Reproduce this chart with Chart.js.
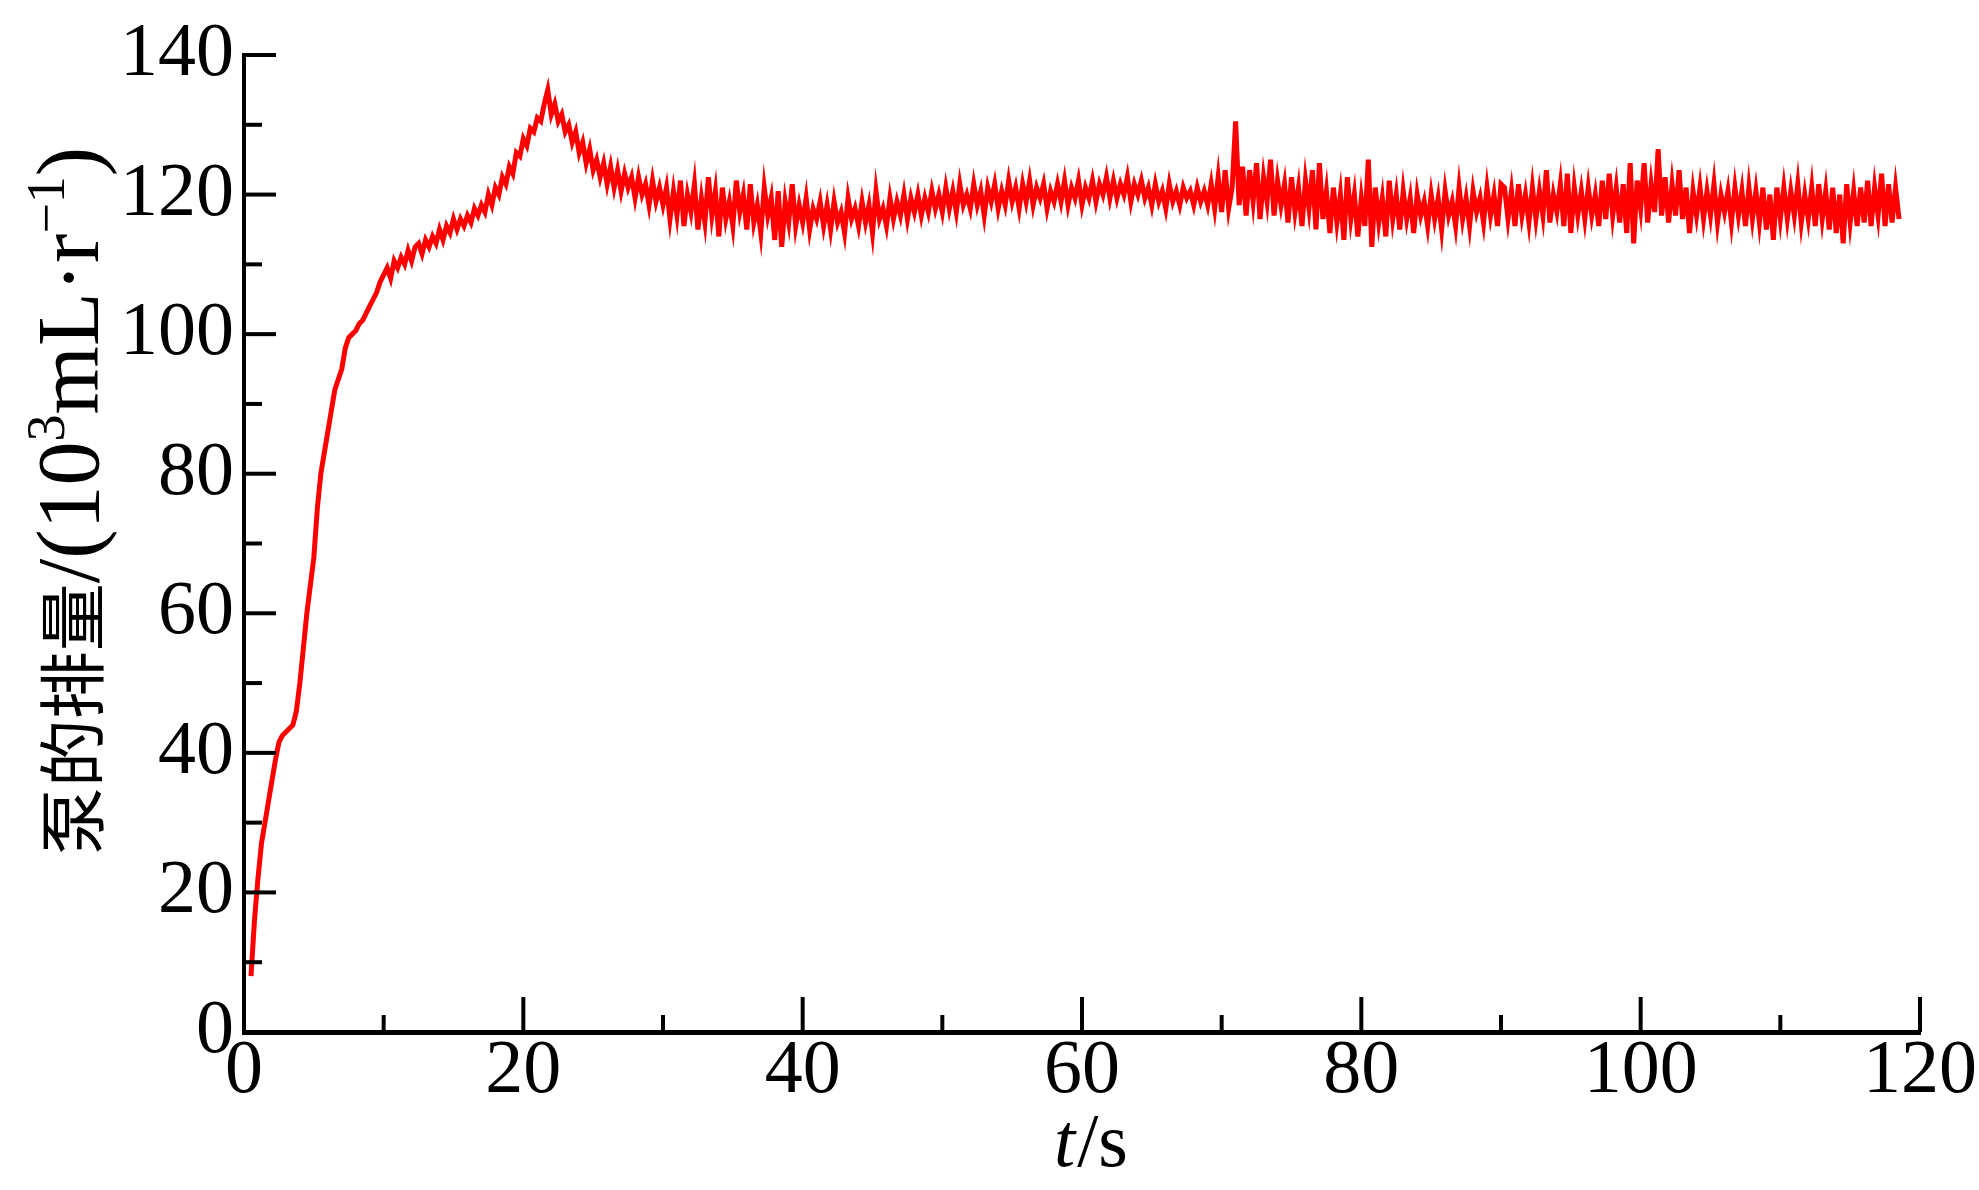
<!DOCTYPE html>
<html>
<head>
<meta charset="utf-8">
<script src="https://cdn.jsdelivr.net/npm/chart.js@4"></script>
<style>
	body { margin: 0; background: #fff; }
	#wrap { width: 1979px; height: 1190px; }
</style>
</head>
<body>
<div id="wrap"><canvas id="pumpChart"></canvas></div>
<script>
// samples every 0.25 s starting at 0.5 s
const sampleStart = 0.5;
const sampleStep = 0.25;

// 0.5 - 10 s : start-up rise
const riseValues = [8, 16, 22, 27, 30, 33, 36, 39, 41.5, 42.5, 43, 43.5, 44, 46, 50, 55, 60, 64, 68, 75,
	80, 83, 86, 89, 92, 93.5, 95, 98, 99.5, 100, 100.5, 101.5, 102, 103, 104, 105, 106, 107.5, 108.5];

// 10.25 - 21.5 s : slow climb to the peak
const climbValues = [109.5, 108, 110.5, 109.5, 111, 110, 112, 110.5, 112.5, 113, 111.5, 113.5, 112.5, 114, 113, 115,
	113.5, 115.5, 114.5, 116.5, 115, 116.5, 115.5, 117, 116, 118, 117, 118.5, 117.5, 120, 118.5, 121,
	120, 122.5, 121.5, 124, 123, 126, 125.5, 128, 127, 129.5, 129, 131, 130.5, 133];

// 21.75 - 30 s : overshoot decay
const decayValues = [135, 131.5, 133, 130.5, 131.5, 129, 130, 127.5, 129, 126, 127.5, 124.5, 126.5, 123.5, 125, 122.5,
	124.5, 121.5, 124, 121, 123.5, 120.5, 123, 121, 122.5, 119.5, 122.5, 120, 121.5, 118.5, 122, 119, 121, 118.5];

// 30.25 - 50 s
const steadyValuesA = [
	121, 116.5, 120.5, 117, 122, 115.5, 120, 117.5,
	121.5, 115, 119.5, 116, 122.5, 117, 120.5, 114,
	121, 116.5, 119, 115.5, 122, 117.5, 120, 115,
	121.5, 116, 118.5, 114.5, 121, 117, 119.5, 113.5,
	120.5, 112.5, 119, 116, 121.5, 115.5, 118.5, 116,
	119.5, 115, 118, 116.5, 119, 115.5, 118.5, 115,
	119, 116, 117.5, 114.5, 119.5, 116.5, 118, 115.5,
	119, 116, 118.5, 114.5, 120.5, 116.5, 118, 115.5,
	119.5, 116.5, 119, 117, 120, 116.5, 119.5, 117.5,
	120, 117, 119.5, 117.5, 120.5, 118, 120, 117.5];

// 50.25 - 70.5 s
const steadyValuesB = [
	121, 118, 120.5, 117.5, 121.5, 118.5, 120, 118,
	121.5, 118.5, 120.5, 117, 121, 119, 121.5, 118,
	120.5, 118.5, 122, 119, 121, 118, 121.5, 119,
	122, 118.5, 121, 119.5, 121.5, 118, 120.5, 119,
	121.5, 119, 122, 118.5, 121, 119.5, 122, 118.5,
	121, 119.5, 122, 119, 121.5, 120, 122.5, 119.5,
	122, 119.5, 121.5, 120, 122.5, 119, 121.5, 120,
	122, 119.5, 121, 118.5, 121.5, 119, 120.5, 118,
	121.5, 119, 120.5, 118.5, 121, 119.5, 120.5, 118.5,
	121, 119, 120.5, 118.5, 121.5, 118, 122.5, 117.5,
	123.5, 118];

// 70.75 - 90 s : spike near 71 s, noisier section
const steadyValuesC = [
	121, 130.5, 118.5, 124, 117, 123.5, 119, 124.5,
	116.5, 122.5, 119, 125, 117, 122, 118.5, 121.5,
	116, 122.5, 117.5, 121, 115.5, 122, 118, 123.5,
	115, 124.5, 116.5, 120.5, 114.5, 121, 116, 120,
	113.5, 122.5, 116.5, 120, 114, 119.5, 115.5, 125,
	112.5, 121, 116, 119.5, 114, 122, 116.5, 120,
	115, 120.5, 116.5, 119.5, 114.5, 120, 117, 119,
	115.5, 120, 116.5, 119.5, 115, 120.5, 117, 119,
	115.5, 121, 116.5, 119.5, 115.5, 120.5, 117.5, 119.5,
	116, 121, 117, 120, 115.5, 121.5];

// 90.25 - 118.5 s
const steadyValuesD = [
	121, 116.5, 120.5, 115.5, 121.5, 117, 120, 116,
	121, 116.5, 120.5, 117, 123.5, 116, 120, 117.5,
	121.5, 115.5, 123, 114.5, 121, 117, 120.5, 116.5,
	121, 117, 120, 115.5, 122, 116.5, 123, 117,
	121, 116, 121.5, 114.5, 124.5, 113, 122, 118,
	124.5, 116, 121.5, 117.5, 126.5, 117, 122.5, 116,
	121.5, 117, 123.5, 116.5, 121, 114.5, 120.5, 117,
	121, 116.5, 120.5, 117, 121.5, 116, 120, 117.5,
	120.5, 116, 121, 117, 120.5, 115.5, 121, 116.5,
	120.5, 116, 121, 115, 120, 113.5, 121, 116.5,
	121, 116.5, 120.5, 117, 121.5, 116, 120, 116.5,
	121, 115.5, 121.5, 116.5, 120.5, 115, 121, 114.5,
	120, 113, 121.5, 116, 120.5, 115.5, 121, 116,
	122, 115.5, 121, 117, 123, 115.5, 121.5, 116,
	121, 116.5];

const xTicks = [0, 20, 40, 60, 80, 100, 120];
const yTicks = [0, 20, 40, 60, 80, 100, 120, 140];

const serif = '"Liberation Serif", "Times New Roman", serif';
const cjk = '"Noto Sans CJK SC", sans-serif';

const buildPoints = () => {
	const values = [].concat(riseValues, climbValues, decayValues,
		steadyValuesA, steadyValuesB, steadyValuesC, steadyValuesD);
	return values.map((v, i) => ({ x: sampleStart + i * sampleStep, y: v }));
};

// y title pieces, drawn rotated
const yTitleRuns = [
	{ text: "泵的排量", font: "68px " + cjk, rise: 0 },
	{ text: "/(10", font: "88px " + serif, rise: 0 },
	{ text: "3", font: "54px " + serif, rise: -34 },
	{ text: "mL·r", font: "88px " + serif, rise: 0 },
	{ text: "\u22121", font: "54px " + serif, rise: -34 },
	{ text: ")", font: "88px " + serif, rise: 0 },
];

const axisDecor = {
	id: "axisDecor",
	afterDraw(chart) {
		const { ctx, scales } = chart;
		const x = scales.x;
		const y = scales.y;
		ctx.save();
		ctx.strokeStyle = "#000";
		ctx.lineWidth = 4;
		ctx.lineCap = "butt";

		// inward ticks on the y axis
		for (let v = y.min; v <= y.max; v += 10) {
			const py = y.getPixelForValue(v);
			const len = v % 20 === 0 ? 32 : 18;
			ctx.beginPath();
			ctx.moveTo(x.left, py);
			ctx.lineTo(x.left + len, py);
			ctx.stroke();
		}
		// inward ticks on the x axis
		for (let v = x.min; v <= x.max; v += 10) {
			const px = x.getPixelForValue(v);
			const len = v % 20 === 0 ? 35 : 17;
			ctx.beginPath();
			ctx.moveTo(px, y.bottom);
			ctx.lineTo(px, y.bottom - len);
			ctx.stroke();
		}

		// y title
		ctx.fillStyle = "#000";
		ctx.textBaseline = "alphabetic";
		let total = 0;
		yTitleRuns.forEach((r) => {
			ctx.font = r.font;
			total += ctx.measureText(r.text).width;
		});
		ctx.translate(98, 501);
		ctx.rotate(-Math.PI / 2);
		let u = -total / 2;
		yTitleRuns.forEach((r) => {
			ctx.font = r.font;
			ctx.fillText(r.text, u, r.rise);
			u += ctx.measureText(r.text).width;
		});
		ctx.restore();

		// x title: italic t, upright /s
		ctx.save();
		ctx.fillStyle = "#000";
		ctx.textBaseline = "alphabetic";
		ctx.font = "italic 76px " + serif;
		const wt = ctx.measureText("t").width;
		ctx.font = "76px " + serif;
		const ws = ctx.measureText("/s").width;
		const startX = 1090 - (wt + ws) / 2;
		ctx.font = "italic 76px " + serif;
		ctx.fillText("t", startX, 1166);
		ctx.font = "76px " + serif;
		ctx.fillText("/s", startX + wt + 2, 1166);
		ctx.restore();
	},
};

const pumpChart = new Chart(document.getElementById("pumpChart"), {
	type: "line",
	data: {
		datasets: [
			{
				data: buildPoints(),
				borderColor: "#ff0000",
				borderWidth: 5,
				pointRadius: 0,
				tension: 0,
				fill: false,
			},
		],
	},
	options: {
		responsive: true,
		maintainAspectRatio: false,
		animation: false,
		events: [],
		layout: {
			padding: { top: 55, right: 0, left: 0, bottom: 0 },
		},
		plugins: {
			legend: { display: false },
			tooltip: { enabled: false },
		},
		scales: {
			x: {
				type: "linear",
				min: 0,
				max: 120,
				afterFit: (s) => (s.height = 158),
				afterBuildTicks: (s) => (s.ticks = xTicks.map((v) => ({ value: v }))),
				grid: { display: false, drawTicks: false },
				border: { display: true, color: "#000", width: 5 },
				ticks: {
					color: "#000",
					padding: 2,
					maxRotation: 0,
					font: { family: serif, size: 76, lineHeight: 1 },
				},
			},
			y: {
				min: 0,
				max: 140,
				afterFit: (s) => (s.width = 244),
				afterBuildTicks: (s) => (s.ticks = yTicks.map((v) => ({ value: v }))),
				grid: { display: false, drawTicks: false },
				border: { display: true, color: "#000", width: 4 },
				ticks: {
					color: "#000",
					padding: 10,
					font: { family: serif, size: 76, lineHeight: 1 },
				},
			},
		},
	},
	plugins: [axisDecor],
});
</script>
</body>
</html>
